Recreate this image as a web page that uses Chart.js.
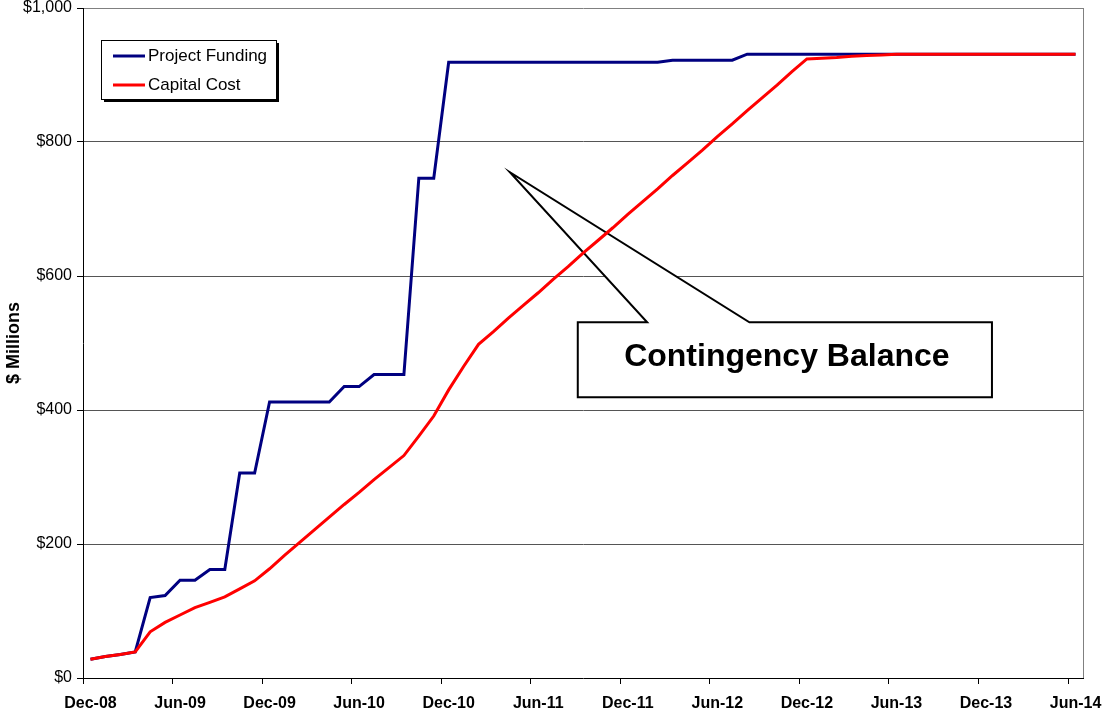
<!DOCTYPE html>
<html>
<head>
<meta charset="utf-8">
<script src="https://cdn.jsdelivr.net/npm/chart.js@4.4.0/dist/chart.umd.min.js"></script>
<style>
  html, body { margin: 0; padding: 0; background: #fff; }
  #wrap { width: 1104px; height: 712px; }
</style>
</head>
<body>
<div id="wrap"><canvas id="fundingChart" width="1104" height="712"></canvas></div>
<script>
// monthly categories, Dec-08 .. Jun-14
const monthNames = ['Jan', 'Feb', 'Mar', 'Apr', 'May', 'Jun', 'Jul', 'Aug', 'Sep', 'Oct', 'Nov', 'Dec'];
const months = [];
for (let m = 11; m <= 11 + 66; m++) {
    const yr = 8 + Math.floor(m / 12);
    months.push(monthNames[m % 12] + '-' + String(yr).padStart(2, '0'));
}

const projectFunding = [28, 32, 35, 39, 120, 123, 146, 146, 162, 162, 306, 306,
    412, 412, 412, 412, 412, 435, 435, 453, 453, 453, 746, 746,
    919, 919, 919, 919, 919, 919, 919, 919, 919, 919, 919, 919, 919, 919, 919,
    922, 922, 922, 922, 922,
    931, 931, 931, 931, 931, 931, 931, 931, 931, 931, 931, 931,
    931, 931, 931, 931, 931, 931, 931, 931, 931, 931, 931];

const capitalCost = [28, 32, 35, 39, 69, 83, 94, 105, 113, 121, 133, 145,
    163, 183, 202, 221, 240, 259, 277, 296, 314, 332, 361, 391,
    430, 465, 498, 517, 537, 556, 575, 595, 614, 634, 653, 672, 692, 711,
    730, 750, 769, 788, 808, 827, 847, 866, 885, 905, 924,
    925, 926, 928, 929, 930,
    931, 931, 931, 931, 931, 931, 931, 931, 931, 931, 931, 931, 931];

const yTicks = [0, 200, 400, 600, 800, 1000];

// callout: [month index, $M]
const calloutTip = [28.1, 755];
const calloutBox = { left: 32.65, right: 60.4, top: 531, bottom: 419 };
const calloutBase = [37.3, 44.15];
const calloutText = 'Contingency Balance';

Chart.defaults.font.family = '"Liberation Sans", Arial, sans-serif';
Chart.defaults.color = '#000';

const frame = {
    id: 'frame',
    beforeDatasetsDraw(chart) {
        const { ctx, chartArea: a, scales: { x, y } } = chart;
        ctx.save();
        ctx.strokeStyle = '#808080';
        ctx.lineWidth = 1;
        ctx.beginPath();
        ctx.moveTo(a.right + 0.5, a.top);
        ctx.lineTo(a.right + 0.5, a.bottom);
        ctx.stroke();

        // callout shape
        const bl = x.getPixelForValue(calloutBox.left), br = x.getPixelForValue(calloutBox.right);
        const bt = y.getPixelForValue(calloutBox.top), bb = y.getPixelForValue(calloutBox.bottom);
        ctx.beginPath();
        ctx.moveTo(bl, bt);
        ctx.lineTo(x.getPixelForValue(calloutBase[0]), bt);
        ctx.lineTo(x.getPixelForValue(calloutTip[0]), y.getPixelForValue(calloutTip[1]));
        ctx.lineTo(x.getPixelForValue(calloutBase[1]), bt);
        ctx.lineTo(br, bt);
        ctx.lineTo(br, bb);
        ctx.lineTo(bl, bb);
        ctx.closePath();
        ctx.fillStyle = '#fff';
        ctx.fill();
        ctx.strokeStyle = '#000';
        ctx.lineWidth = 2;
        ctx.lineJoin = 'miter';
        ctx.stroke();
        ctx.fillStyle = '#000';
        ctx.font = 'bold 32px "Liberation Sans", Arial, sans-serif';
        ctx.textAlign = 'center';
        ctx.textBaseline = 'alphabetic';
        ctx.fillText(calloutText, (bl + br) / 2 + 2, (bt + bb) / 2 + 6);
        ctx.restore();
    },
    afterDraw(chart) {
        const { ctx, chartArea: a } = chart;
        const lx = a.left + 18, ly = a.top + 32, w = 175, h = 59;
        ctx.save();
        ctx.fillStyle = '#000';
        ctx.fillRect(lx + 3, ly + 3, w, h);
        ctx.fillStyle = '#fff';
        ctx.fillRect(lx, ly, w, h);
        ctx.strokeStyle = '#000';
        ctx.lineWidth = 1;
        ctx.strokeRect(lx + 0.5, ly + 0.5, w, h);
        ctx.font = '17px "Liberation Sans", Arial, sans-serif';
        ctx.textBaseline = 'middle';
        ctx.textAlign = 'left';
        chart.data.datasets.forEach((ds, i) => {
            const yy = ly + 16 + i * 29;
            ctx.strokeStyle = ds.borderColor;
            ctx.lineWidth = 3;
            ctx.beginPath();
            ctx.moveTo(lx + 12, yy);
            ctx.lineTo(lx + 44, yy);
            ctx.stroke();
            ctx.fillStyle = '#000';
            ctx.fillText(ds.label, lx + 47, yy);
        });
        ctx.restore();
    }
};

const chart = new Chart(document.getElementById('fundingChart'), {
    type: 'line',
    data: {
        labels: months,
        datasets: [
            {
                label: 'Project Funding',
                data: projectFunding,
                borderColor: '#000080',
                borderWidth: 3,
                pointRadius: 0,
                tension: 0,
                order: 1
            },
            {
                label: 'Capital Cost',
                data: capitalCost,
                borderColor: '#ff0000',
                borderWidth: 3,
                pointRadius: 0,
                tension: 0,
                order: 0
            }
        ]
    },
    options: {
        responsive: false,
        animation: false,
        layout: { padding: { top: 8, right: 21, left: 0, bottom: 0 } },
        plugins: { legend: { display: false }, tooltip: { enabled: false } },
        scales: {
            x: {
                offset: true,
                afterFit: s => { s.height = 34; s.paddingLeft = 0; s.paddingRight = 0; },
                grid: {
                    offset: true,
                    drawOnChartArea: false,
                    tickLength: 6,
                    color: c => c.index % 6 === 0 ? '#000' : 'rgba(0,0,0,0)'
                },
                border: { color: '#000', width: 1 },
                ticks: {
                    autoSkip: false,
                    maxRotation: 0,
                    padding: 10,
                    font: { size: 16, weight: 'bold' },
                    callback: (v, i) => i % 6 === 0 ? months[i] : ''
                }
            },
            y: {
                min: 0,
                max: 1000,
                afterFit: s => { s.width = 83; s.paddingTop = 0; s.paddingBottom = 0; },
                afterBuildTicks: s => { s.ticks = yTicks.map(v => ({ value: v })); },
                grid: {
                    tickLength: 6,
                    tickColor: '#000',
                    color: c => c.tick.value === 0 ? 'rgba(0,0,0,0)' : (c.tick.value === 1000 ? '#808080' : '#555')
                },
                border: { color: '#000', width: 1 },
                ticks: {
                    padding: 5,
                    font: { size: 16 },
                    callback: v => '$' + v.toLocaleString('en-US')
                },
                title: {
                    display: true,
                    text: '$ Millions',
                    font: { size: 18, weight: 'bold' },
                    padding: { top: 3, bottom: 0 }
                }
            }
        }
    },
    plugins: [frame]
});
</script>
</body>
</html>
